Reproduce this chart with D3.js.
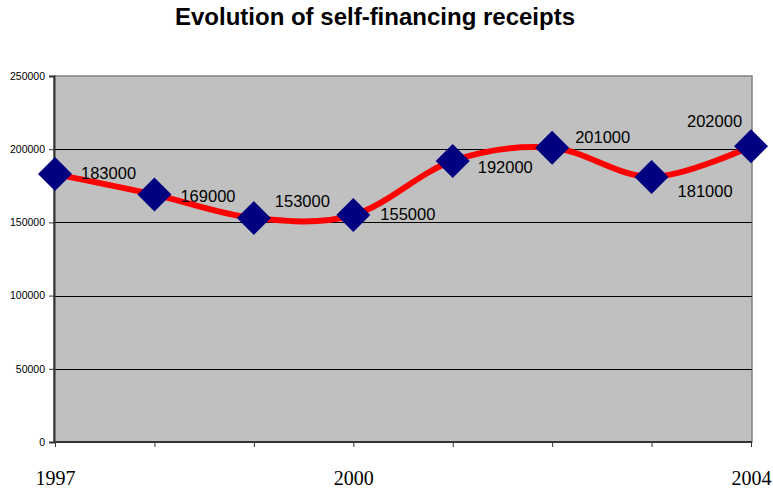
<!DOCTYPE html>
<html>
<head>
<meta charset="utf-8">
<script src="https://cdn.jsdelivr.net/npm/d3@7"></script>
<style>
  html, body { margin: 0; padding: 0; background: #fff; }
  svg { display: block; }
</style>
</head>
<body>
<svg id="chart" width="773" height="493"></svg>
<script>
// Self-financing receipts per year
const years = ["1997", "1998", "1999", "2000", "2001", "2002", "2003", "2004"];
const receipts = [183000, 169000, 153000, 155000, 192000, 201000, 181000, 202000];
const shownYearLabels = ["1997", "2000", "2004"];
const yTicks = [0, 50000, 100000, 150000, 200000, 250000];
// Label nudges relative to each marker (dx, dy)
const labelOffsets = [[26, 5], [26, 7], [21, -11], [27, 5], [25, 12], [23, -5], [26, 20], [-64, -19]];

const svg = d3.select("#chart");
const margin = { left: 54, right: 22, top: 76, bottom: 51 };
const W = 773, H = 493;

const x = d3.scalePoint().domain(years).range([margin.left + 1, W - margin.right]);
const y = d3.scaleLinear().domain([0, 250000]).range([H - margin.bottom, margin.top]);

// Title
svg.append("text")
  .attr("x", 375).attr("y", 25)
  .attr("text-anchor", "middle")
  .attr("font-family", "Liberation Sans, Arial, sans-serif")
  .attr("font-weight", "bold")
  .attr("font-size", 24)
  .text("Evolution of self-financing receipts");

// Plot area
svg.append("rect")
  .attr("x", margin.left).attr("y", margin.top)
  .attr("width", W - margin.right - margin.left + 1)
  .attr("height", H - margin.bottom - margin.top)
  .attr("fill", "#c0c0c0")
  .attr("stroke", "#808080")
  .attr("stroke-width", 1.5);

// Gridlines
svg.append("g")
  .selectAll("line")
  .data(yTicks.filter(d => d > 0 && d < 250000))
  .join("line")
  .attr("x1", margin.left).attr("x2", W - margin.right + 1)
  .attr("y1", d => Math.round(y(d)) + 0.5).attr("y2", d => Math.round(y(d)) + 0.5)
  .attr("stroke", "#000").attr("stroke-width", 1);

// Y axis
const yAxis = d3.axisLeft(y).tickValues(yTicks).tickSize(5).tickPadding(4).tickFormat(d3.format("d"));
const gy = svg.append("g").attr("transform", `translate(${margin.left},0)`).call(yAxis);
gy.select(".domain").attr("stroke", "#333").attr("stroke-width", 2);
gy.selectAll(".tick line").attr("stroke", "#333");
gy.selectAll(".tick text")
  .attr("font-family", "Liberation Sans, Arial, sans-serif")
  .attr("font-size", 10.5)
  .attr("fill", "#000");

// X axis
const xAxis = d3.axisBottom(x).tickSize(5).tickSizeOuter(0).tickPadding(24)
  .tickFormat(d => shownYearLabels.includes(d) ? d : "");
const gx = svg.append("g").attr("transform", `translate(0,${H - margin.bottom})`).call(xAxis);
gx.select(".domain").attr("stroke", "#333").attr("stroke-width", 2)
  .attr("d", `M${margin.left},0H${W - margin.right + 1}`);
gx.selectAll(".tick line").attr("stroke", "#333");
gx.selectAll(".tick text")
  .attr("font-family", "Liberation Serif, Times New Roman, serif")
  .attr("font-size", 20)
  .attr("fill", "#000");

const pts = years.map((yr, i) => ({ year: yr, value: receipts[i] }));

// Smoothed series line
const line = d3.line()
  .x(d => x(d.year))
  .y(d => y(d.value))
  .curve(d3.curveCardinal.tension(0));

svg.append("path")
  .datum(pts)
  .attr("d", line)
  .attr("fill", "none")
  .attr("stroke", "#ff0000")
  .attr("stroke-width", 6)
  .attr("stroke-linejoin", "round");

// Diamond markers
const s = 17;
svg.append("g")
  .selectAll("path")
  .data(pts)
  .join("path")
  .attr("transform", d => `translate(${x(d.year)},${y(d.value)})`)
  .attr("d", `M0,${-s}L${s},0L0,${s}L${-s},0Z`)
  .attr("fill", "#000080");

// Value labels
svg.append("g")
  .selectAll("text")
  .data(pts)
  .join("text")
  .attr("x", (d, i) => x(d.year) + labelOffsets[i][0])
  .attr("y", (d, i) => y(d.value) + labelOffsets[i][1])
  .attr("font-family", "Liberation Sans, Arial, sans-serif")
  .attr("font-size", 16.5)
  .attr("fill", "#000")
  .text(d => d3.format("d")(d.value));
</script>
</body>
</html>
